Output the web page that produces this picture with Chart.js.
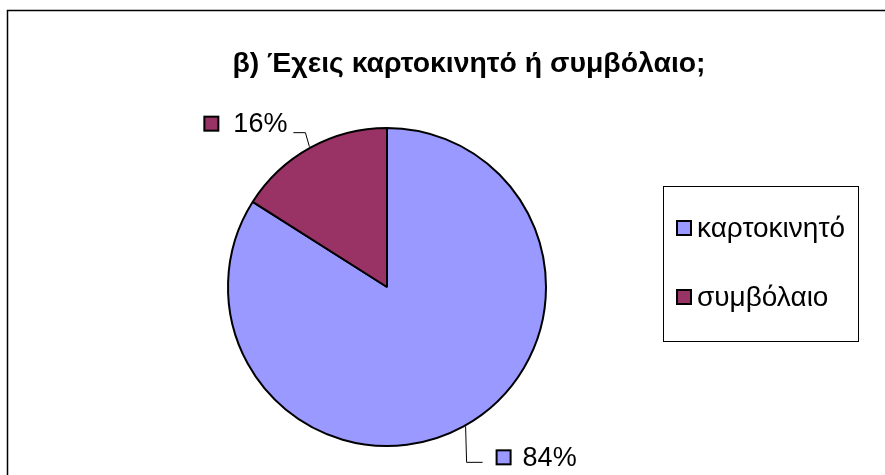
<!DOCTYPE html>
<html>
<head>
<meta charset="utf-8">
<script src="https://cdn.jsdelivr.net/npm/chart.js@4"></script>
<style>
html,body{margin:0;padding:0;background:#fff;}
#wrap{width:885px;height:475px;position:relative;}
</style>
</head>
<body>
<div id="wrap"><canvas id="c" width="885" height="475"></canvas></div>
<script>
const chartTitle = 'β) Έχεις καρτοκινητό ή συμβόλαιο;';
const categories = ['καρτοκινητό', 'συμβόλαιο'];
const values = [84, 16];
const valueLabels = ['84%', '16%'];
const colors = ['#9999FF', '#993366'];

const FONT = '"Liberation Sans", Arial, sans-serif';

const decor = {
  id: 'decor',
  afterDraw(chart) {
    const ctx = chart.ctx;
    ctx.save();
    // outer frame
    ctx.strokeStyle = '#000';
    ctx.lineWidth = 1.5;
    ctx.beginPath();
    ctx.moveTo(7.5, 480);
    ctx.lineTo(7.5, 10.5);
    ctx.lineTo(890, 10.5);
    ctx.stroke();

    // title
    ctx.fillStyle = '#000';
    ctx.font = 'bold 28.4px ' + FONT;
    ctx.textAlign = 'center';
    ctx.textBaseline = 'alphabetic';
    ctx.fillText(chartTitle, 469, 72);

    // legend box
    ctx.lineWidth = 1;
    ctx.strokeStyle = '#000';
    ctx.strokeRect(663.5, 186.5, 195, 155);
    const legY = [228, 297];
    ctx.font = '28px ' + FONT;
    ctx.textAlign = 'left';
    ctx.textBaseline = 'middle';
    categories.forEach((c, i) => {
      ctx.fillStyle = colors[i];
      ctx.fillRect(677, legY[i] - 7, 14, 14);
      ctx.lineWidth = 2;
      ctx.strokeStyle = '#000';
      ctx.strokeRect(677, legY[i] - 7, 14, 14);
      ctx.fillStyle = '#000';
      ctx.fillText(c, 697, legY[i] + 1);
    });

    // data labels with leader lines
    const meta = chart.getDatasetMeta(0);
    ctx.font = '27px ' + FONT;
    meta.data.forEach((arc, i) => {
      const mid = (arc.startAngle + arc.endAngle) / 2;
      const px = arc.x + Math.cos(mid) * arc.outerRadius;
      const py = arc.y + Math.sin(mid) * arc.outerRadius;
      const right = Math.cos(mid) > 0;
      ctx.strokeStyle = '#000';
      ctx.lineWidth = 1;
      ctx.beginPath();
      let ex, ey;
      if (right) {
        ctx.moveTo(px + 2, py);
        ctx.lineTo(px + 3, py + 36);
        ex = px + 19; ey = py + 36;
        ctx.lineTo(ex, ey);
      } else {
        ctx.moveTo(px - 1, py - 1);
        ctx.lineTo(px - 5, py - 15);
        ex = px - 17; ey = py - 15;
        ctx.lineTo(ex, ey);
      }
      ctx.stroke();
      const tw = ctx.measureText(valueLabels[i]).width;
      let sqx, tx, cy;
      if (right) {
        sqx = ex + 14; tx = sqx + 26; cy = ey - 5;
      } else {
        tx = ex - 6 - tw; sqx = tx - 29; cy = ey - 9;
      }
      ctx.fillStyle = colors[i];
      ctx.fillRect(sqx, cy - 7, 14, 14);
      ctx.lineWidth = 2;
      ctx.strokeRect(sqx, cy - 7, 14, 14);
      ctx.fillStyle = '#000';
      ctx.textAlign = 'left';
      ctx.textBaseline = 'middle';
      ctx.fillText(valueLabels[i], tx, cy + 1);
    });
    ctx.restore();
  }
};

new Chart(document.getElementById('c'), {
  type: 'pie',
  data: {
    labels: categories,
    datasets: [{
      data: values,
      backgroundColor: colors,
      borderColor: '#000',
      borderWidth: 2
    }]
  },
  options: {
    responsive: false,
    animation: false,
    layout: { padding: { left: 227, right: 338, top: 127, bottom: 28 } },
    plugins: {
      legend: { display: false },
      title: { display: false },
      tooltip: { enabled: false }
    }
  },
  plugins: [decor]
});
</script>
</body>
</html>
